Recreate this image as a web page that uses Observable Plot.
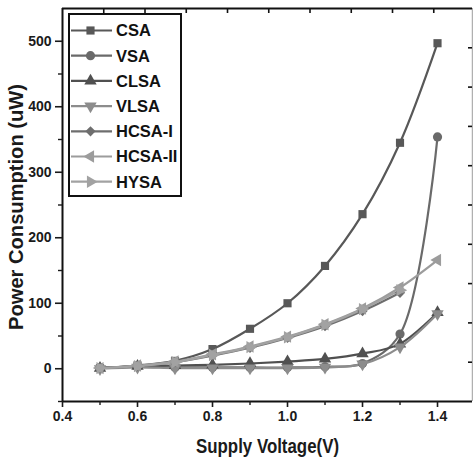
<!DOCTYPE html>
<html>
<head>
<meta charset="utf-8">
<script src="https://cdn.jsdelivr.net/npm/d3@7"></script>
<script src="https://cdn.jsdelivr.net/npm/@observablehq/plot@0.6"></script>
<style>
  html, body { margin: 0; padding: 0; background: #fff; }
  #wrap { position: relative; width: 473px; height: 467px; }
  #legend { position: absolute; left: 68px; top: 13px; }
</style>
</head>
<body>
<div id="wrap"><div id="chart"></div><div id="legend"></div></div>
<script>
// ---- data ----
const voltages = [0.5, 0.6, 0.7, 0.8, 0.9, 1.0, 1.1, 1.2, 1.3, 1.4];
const seriesNames = ["CSA", "VSA", "CLSA", "VLSA", "HCSA-I", "HCSA-II", "HYSA"];
const CSA     = [1, 5, 12, 30, 61, 100, 157, 236, 345, 497];
const VSA     = [2, 3, 2, 2, 2, 2, 3, 8, 53, 354];
const CLSA    = [1, 4, 5, 6, 8, 11, 15, 23, 38, 86];
const VLSA    = [0, 2, 1, 1, 1, 1, 2, 7, 33, 84];
const HCSA_I  = [1, 4, 10, 20, 32, 47, 65, 88, 116, null];
const HCSA_II = [1, 5, 11, 22, 34, 49, 68, 92, 124, 166];
const HYSA    = [1, 4, 10, 21, 33, 48, 67, 91, 120, null];
const seriesValues = [CSA, VSA, CLSA, VLSA, HCSA_I, HCSA_II, HYSA];
const seriesColors = ["#585858", "#6a6a6a", "#505050", "#8c8c8c", "#6e6e6e", "#9c9c9c", "#a2a2a2"];
const seriesSymbols = ["square", "circle", "triangle", "triangle", "diamond2", "triangle", "triangle"];
const seriesRotate = [0, 0, 0, 180, 0, -90, 90];

const xDomain = [0.4, 1.4933];
const yDomain = [-50, 550];
const xMajorTicks = [0.4, 0.6, 0.8, 1.0, 1.2, 1.4];
const xMinorTicks = [0.5, 0.7, 0.9, 1.1, 1.3];
const yMajorTicks = [0, 100, 200, 300, 400, 500];
const yMinorTicks = [-50, 50, 150, 250, 350, 450];
const topTicks = [0.51, 0.62, 0.73, 0.84, 0.95, 1.06, 1.17, 1.28, 1.39];
const rightTicks = [10, 70, 130, 190, 250, 310, 370, 430, 490];
const xTitle = "Supply Voltage(V)";
const yTitle = "Power Consumption (uW)";

// ---- build table ----
const rows = [];
seriesNames.forEach((name, i) => {
  voltages.forEach((v, j) => {
    const val = seriesValues[i][j];
    if (val != null) rows.push({series: name, idx: i, x: v, y: val});
  });
});

const baseFont = "'Liberation Sans', Arial, sans-serif";
const W = 473, H = 467, mL = 62, mR = 1, mT = 8, mB = 66;
const frameW = W - mL - mR, frameH = H - mT - mB;

const chart = Plot.plot({
  width: W,
  height: H,
  marginLeft: mL,
  marginRight: mR,
  marginTop: mT,
  marginBottom: mB,
  x: {domain: xDomain},
  y: {domain: yDomain},
  style: {fontFamily: baseFont, fontWeight: "bold", fontSize: "14px", color: "#1a1a1a", background: "#fff", overflow: "visible"},
  marks: [
    // frame
    Plot.ruleX([xDomain[1]], {stroke: "#b0b0b0", strokeWidth: 1.5}),
    Plot.ruleY([yDomain[1]], {stroke: "#111", strokeWidth: 2.2}),
    Plot.ruleY([yDomain[0]], {stroke: "#111", strokeWidth: 2}),
    Plot.ruleX([xDomain[0]], {stroke: "#111", strokeWidth: 2}),
    // inward ticks on the top and right edges
    Plot.tickX(topTicks, {x: d => d, insetBottom: frameH - 5, stroke: "#111", strokeWidth: 1.6}),
    Plot.tickY(rightTicks, {y: d => d, insetLeft: frameW - 4, stroke: "#111", strokeWidth: 1.6}),
    // axes
    Plot.axisX({ticks: xMajorTicks, tickSize: 6, tickPadding: 4, tickFormat: ".1f", label: null, strokeWidth: 1.6, fontSize: 14}),
    Plot.axisX({ticks: xMinorTicks, tickSize: 4, tickFormat: () => "", label: null, strokeWidth: 1.4}),
    Plot.axisY({ticks: yMajorTicks, tickSize: 7, tickPadding: 4, tickFormat: d => String(d), label: null, strokeWidth: 1.6, fontSize: 14}),
    Plot.axisY({ticks: yMinorTicks, tickSize: 4, tickFormat: () => "", label: null, strokeWidth: 1.4}),
    // lines
    Plot.line(rows, {x: "x", y: "y", z: "series", stroke: d => seriesColors[d.idx], strokeWidth: 2.2, curve: "catmull-rom"}),
    Plot.dot(rows, {x: "x", y: "y", symbol: d => seriesSymbols[d.idx], rotate: d => seriesRotate[d.idx], fill: d => seriesColors[d.idx], stroke: "none", r: 4.6}),
    // titles
    Plot.text([xTitle], {frameAnchor: "bottom", dy: 51, textAnchor: "middle", fontSize: 20, fontFamily: baseFont, fontWeight: "bold", fill: "#1a1a1a"}),
    Plot.text([yTitle], {frameAnchor: "left", dx: -46, dy: 2, textAnchor: "middle", rotate: -90, fontSize: 20, fontFamily: baseFont, fontWeight: "bold", fill: "#1a1a1a"})
  ]
});
document.getElementById("chart").appendChild(chart);

// condense the axis titles to the reference's narrow lettering
d3.select(chart).selectAll("text").each(function () {
  const t = this.textContent;
  if (t === xTitle) d3.select(this).attr("textLength", 143).attr("lengthAdjust", "spacingAndGlyphs");
  if (t === yTitle) d3.select(this).attr("textLength", 246).attr("lengthAdjust", "spacingAndGlyphs");
});

// ---- legend ----
const symMap = {square: d3.symbolSquare, circle: d3.symbolCircle, triangle: d3.symbolTriangle, diamond2: d3.symbolDiamond2};
const lw = 114, lh = 184, rowStep = 25.2, row0 = 17.5;
const leg = d3.select("#legend").append("svg").attr("width", lw).attr("height", lh);
leg.append("rect").attr("x", 1).attr("y", 1).attr("width", lw - 2).attr("height", lh - 2)
  .attr("fill", "#fff").attr("stroke", "#111").attr("stroke-width", 2);
seriesNames.forEach((name, i) => {
  const cy = row0 + i * rowStep;
  const g = leg.append("g");
  g.append("line").attr("x1", 3).attr("x2", 44).attr("y1", cy).attr("y2", cy)
    .attr("stroke", seriesColors[i]).attr("stroke-width", 2.2);
  g.append("path").attr("d", d3.symbol(symMap[seriesSymbols[i]], Math.PI * 4.6 * 4.6)())
    .attr("transform", `translate(22.5,${cy}) rotate(${seriesRotate[i]})`)
    .attr("fill", seriesColors[i]);
  g.append("text").attr("x", 48).attr("y", cy).attr("dy", "0.36em")
    .attr("font-family", baseFont).attr("font-weight", "bold").attr("font-size", 16.5)
    .attr("fill", "#111").text(name);
});
</script>
</body>
</html>
